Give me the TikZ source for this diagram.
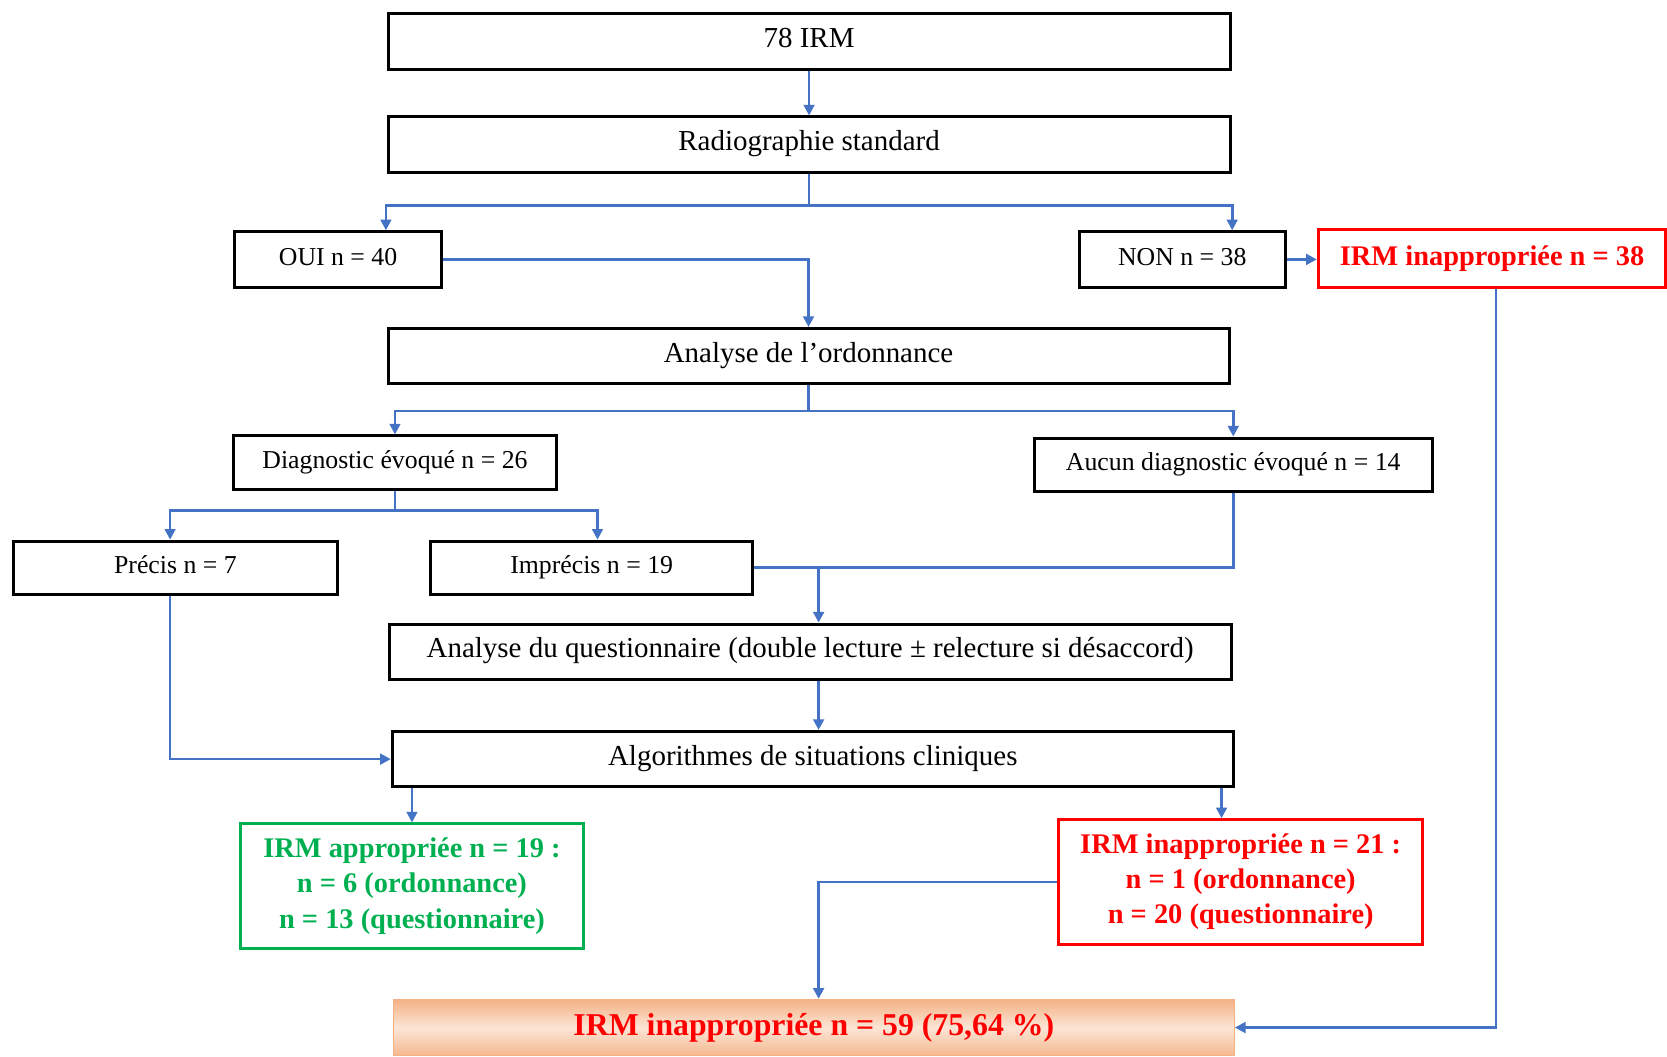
\documentclass[tikz,border=0pt]{standalone}
\usepackage{fontspec}
\setmainfont{Liberation Serif}
\usetikzlibrary{arrows.meta}
\definecolor{lineblue}{HTML}{4472C4}
\definecolor{okgreen}{HTML}{00B050}
\definecolor{badred}{HTML}{FF0000}
\definecolor{peachA}{HTML}{F4B183}
\definecolor{peachB}{HTML}{FBE5D6}
\begin{document}
\begin{tikzpicture}[
  box/.style={draw=black, line width=1.6pt, minimum height=1.04cm, inner sep=0pt, text height=1.7ex, text depth=0.25ex, font=\fontsize{15.5}{18}\selectfont},
  smallbox/.style={box, minimum height=1cm, font=\fontsize{13.8}{16}\selectfont},
  redbox/.style={draw=badred, line width=1.6pt, text=badred, inner sep=0pt, align=center, font=\bfseries\fontsize{15.2}{18.8}\selectfont},
  greenbox/.style={redbox, draw=okgreen, text=okgreen},
  totalbox/.style={draw=peachA, line width=0.6pt, top color=peachA, bottom color=peachA!90, middle color=peachB, text=badred, inner sep=0pt, font=\bfseries\fontsize{17}{20}\selectfont},
  link/.style={draw=lineblue, line width=1.4pt},
  arr/.style={link, -{Triangle[length=0.2cm,width=0.2cm]}}
]
\useasboundingbox (0,0) rectangle (31.36,-19.88);
\path
  (15.22,-0.78) node[box, minimum width=15.84cm] (irm) {78 IRM}
  (15.22,-2.72) node[box, minimum width=15.84cm] (radio) {Radiographie standard}
  (6.36,-4.88) node[smallbox, minimum width=3.88cm, minimum height=1.04cm] (oui) {OUI n = 40}
  (22.24,-4.88) node[smallbox, minimum width=3.88cm, minimum height=1.04cm] (non) {NON n = 38}
  (28.07,-4.86) node[redbox, minimum width=6.54cm, minimum height=1.08cm] (irmnon) {IRM inappropriée n = 38}
  (15.21,-6.70) node[box, minimum width=15.82cm] (ordo) {Analyse de l’ordonnance}
  (7.43,-8.70) node[smallbox, minimum width=6.06cm] (diag) {Diagnostic évoqué n = 26}
  (23.20,-8.74) node[smallbox, minimum width=7.48cm] (aucun) {Aucun diagnostic évoqué n = 14}
  (3.30,-10.68) node[smallbox, minimum width=6.08cm] (precis) {Précis n = 7}
  (11.13,-10.68) node[smallbox, minimum width=6.06cm] (imprecis) {Imprécis n = 19}
  (15.24,-12.26) node[box, minimum width=15.84cm] (quest) {Analyse du questionnaire (double lecture ± relecture si désaccord)}
  (15.29,-14.28) node[box, minimum width=15.82cm] (algo) {Algorithmes de situations cliniques}
  (7.75,-16.67) node[greenbox, minimum width=6.46cm, minimum height=2.34cm] (ok) {IRM appropriée n = 19 :\\ n = 6 (ordonnance)\\ n = 13 (questionnaire)}
  (23.34,-16.59) node[redbox, minimum width=6.84cm, minimum height=2.34cm] (bad) {IRM inappropriée n = 21 :\\ n = 1 (ordonnance)\\ n = 20 (questionnaire)}
  (15.31,-19.33) node[totalbox, minimum width=15.82cm, minimum height=1.06cm] (total) {IRM inappropriée n = 59 (75,64 \%)};
\coordinate (ouiin) at ([xshift=0.9cm]oui.north);
\coordinate (nonin) at ([xshift=0.94cm]non.north);
\coordinate (precisin) at ([xshift=-0.1cm]precis.north);
\coordinate (imprecisin) at ([xshift=0.11cm]imprecis.north);
\coordinate (questin) at ([xshift=0.16cm]quest.north);
\coordinate (algoin) at ([xshift=0.11cm]algo.north);
\coordinate (badin) at ([xshift=-0.36cm]bad.north);
\coordinate (totalin) at ([xshift=0.09cm]total.north);
\draw[arr] (irm) -- (radio);
\draw[arr] (radio.south) -- ++(0,-0.6) -| (ouiin);
\draw[arr] (radio.south) -- ++(0,-0.6) -| (nonin);
\draw[arr] (non.east) -- (non.east -| irmnon.west);
\draw[arr] (oui.east) -| (ordo.north);
\draw[arr] (ordo.south) -- ++(0,-0.48) -| (diag.north);
\draw[arr] (ordo.south) -- ++(0,-0.48) -| (aucun.north);
\draw[arr] (diag.south) -- ++(0,-0.38) -| (precisin);
\draw[arr] (diag.south) -- ++(0,-0.38) -| (imprecisin);
\draw[link] (imprecis.east) -- (aucun.south |- imprecis.east) -- (aucun.south);
\draw[arr] (questin |- imprecis.east) -- (questin);
\draw[arr] (algoin |- quest.south) -- (algoin);
\draw[arr] ([xshift=-0.1cm]precis.south) |- (algo.west);
\draw[arr] (ok.north |- algo.south) -- (ok.north);
\draw[arr] (badin |- algo.south) -- (badin);
\draw[arr] (bad.west) -| (totalin);
\draw[arr] ([xshift=0.07cm]irmnon.south) |- (total.east);
\end{tikzpicture}
\end{document}
